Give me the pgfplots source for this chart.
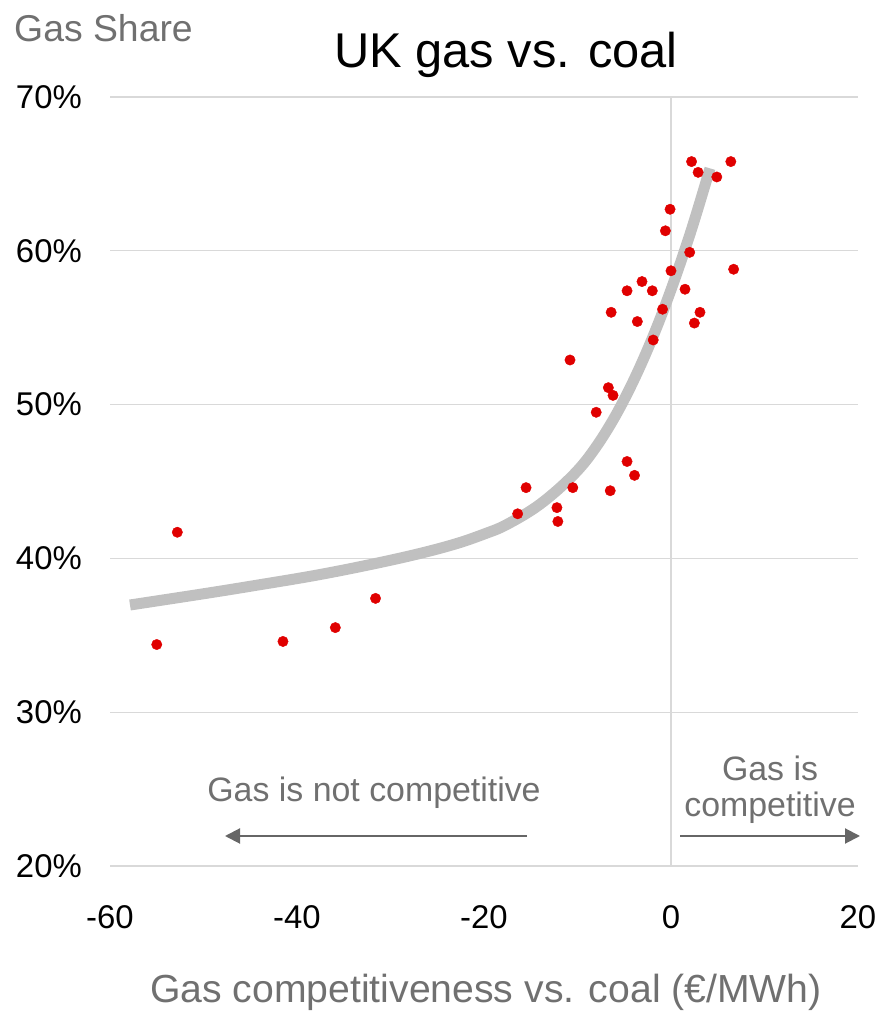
\documentclass[border=0pt]{standalone}
\usepackage{fontspec}
\setmainfont{Liberation Sans}
\usepackage{pgfplots}
\pgfplotsset{compat=1.18}
\usetikzlibrary{arrows.meta}
\definecolor{gridgray}{HTML}{D9D9D9}
\definecolor{fitgray}{HTML}{C0C0C0}
\definecolor{ptred}{HTML}{E00000}
\definecolor{txtgray}{HTML}{707070}
\definecolor{arrgray}{HTML}{666666}
\begin{document}
\begin{tikzpicture}
\useasboundingbox (0,0) rectangle (879bp,1011bp);
\begin{axis}[
  at={(110bp,145bp)}, anchor=south west, scale only axis,
  width=748bp, height=769bp,
  xmin=-60, xmax=20, ymin=20, ymax=70,
  axis line style={draw=none},
  xtick={-60,-40,-20,0,20}, xticklabels={-60,-40,-20,0,20},
  ytick={20,30,40,50,60,70}, yticklabels={20\%,30\%,40\%,50\%,60\%,70\%},
  major tick length=0pt,
  ymajorgrids,
  grid style={draw=gridgray, line width=1.3bp},
  extra x ticks={0}, extra x tick labels={}, extra x tick style={grid=major},
  tick label style={font=\fontsize{33}{36}\selectfont, inner sep=0pt, text=black},
  xticklabel style={anchor=north, yshift=-39bp},
  yticklabel style={anchor=east, xshift=-28bp},
  clip=false,
]
\addplot[smooth, tension=0.6, line width=11bp, color=fitgray] coordinates {
(-57.86,36.97) (-50.00,37.70) (-44.67,38.22) (-38.00,38.90) (-32.00,39.62)
(-27.00,40.30) (-23.00,40.95) (-20.00,41.58) (-17.57,42.20) (-14.01,43.52)
(-10.45,45.42) (-8.00,47.26) (-5.50,49.76) (-3.00,52.89) (-0.50,56.64)
(2.00,61.02) (4.17,65.36)
};
\addplot[only marks, color=ptred, mark=*, mark size=5.2bp, mark options={draw=none, fill=ptred}] coordinates {
(-55.0,34.4) (-52.8,41.7) (-41.5,34.6) (-35.9,35.5) (-31.6,37.4)
(-16.4,42.9) (-15.5,44.6) (-12.2,43.3) (-12.1,42.4) (-10.5,44.6)
(-10.8,52.9) (-8.0,49.5) (-6.7,51.1) (-6.2,50.6) (-6.5,44.4)
(-4.7,46.3) (-3.9,45.4) (-6.4,56.0) (-4.7,57.4) (-3.1,58.0)
(-3.6,55.4) (-2.0,57.4) (-1.9,54.2) (-0.9,56.2) (-0.6,61.3)
(-0.1,62.7) (0.0,58.7) (1.5,57.5) (2.0,59.9) (2.2,65.8)
(2.9,65.1) (2.5,55.3) (3.1,56.0) (4.9,64.8) (6.4,65.8) (6.7,58.8)
};
\end{axis}
\node[anchor=base west, inner sep=0pt, text=txtgray, font=\fontsize{37.5}{40}\selectfont] at (14bp,969bp) {Gas Share};
\node[anchor=base, inner sep=0pt, text=black, font=\fontsize{49}{54}\selectfont] at (506bp,943bp) {UK gas vs. coal};
\node[anchor=base, inner sep=0pt, text=txtgray, font=\fontsize{39.3}{42}\selectfont] at (486bp,9bp) {Gas competitiveness vs. coal (€/MWh)};
\node[anchor=base, inner sep=0pt, text=txtgray, font=\fontsize{34}{38}\selectfont] at (374bp,209bp) {Gas is not competitive};
\node[anchor=base, inner sep=0pt, text=txtgray, font=\fontsize{34}{38}\selectfont] at (770bp,230bp) {Gas is};
\node[anchor=base, inner sep=0pt, text=txtgray, font=\fontsize{34}{38}\selectfont] at (770bp,194bp) {competitive};
\draw[arrgray, line width=2bp, -{Triangle[length=15bp, width=15bp]}] (527bp,175bp) -- (225bp,175bp);
\draw[arrgray, line width=2bp, -{Triangle[length=15bp, width=15bp]}] (680bp,175bp) -- (860bp,175bp);
\end{tikzpicture}
\end{document}
